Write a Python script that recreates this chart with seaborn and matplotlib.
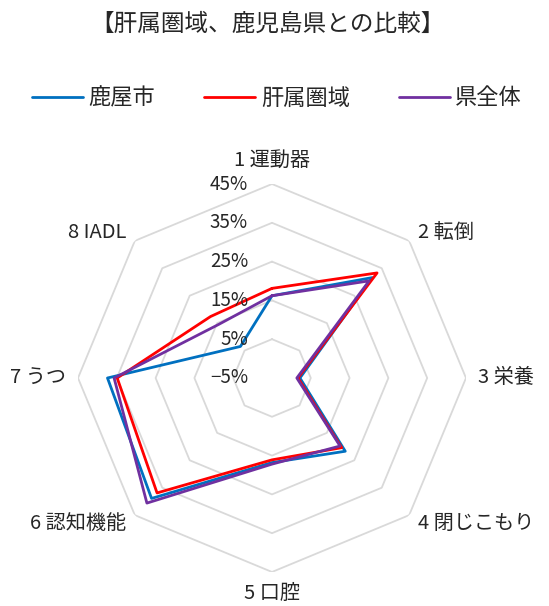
import numpy as np
import pandas as pd
import matplotlib
matplotlib.use("Agg")
import matplotlib.pyplot as plt
import matplotlib.transforms as mtransforms
import seaborn as sns

# values (%)
categories = ["1 運動器", "2 転倒", "3 栄養", "4 閉じこもり", "5 口腔", "6 認知機能", "7 うつ", "8 IADL"]
kanoya = [16.2, 31.6, 2.2, 21.7, 16.8, 38.9, 37.4, 6.5]
kimotsuki = [18.1, 33.3, 1.7, 20.4, 16.1, 36.9, 34.9, 17.4]
prefecture = [16.2, 30.4, 1.4, 19.8, 17.2, 40.6, 35.7, 14.5]
series_names = ["鹿屋市", "肝属圏域", "県全体"]
colors = ["#0070C0", "#FF0000", "#7030A0"]
ring_ticks = [-5, 5, 15, 25, 35, 45]
ring_labels = ["−5%", "5%", "15%", "25%", "35%", "45%"]

sns.set_theme(style="white")
plt.rcParams["font.family"] = ["Noto Sans CJK JP", "DejaVu Sans"]

n = len(categories)
angles = np.linspace(0, 2 * np.pi, n, endpoint=False)

# long table, each loop closed by repeating its first point
rows = []
for name, vals in zip(series_names, [kanoya, kimotsuki, prefecture]):
    for k, i in enumerate(list(range(n)) + [0]):
        th = 2 * np.pi if k == n else angles[i]
        rows.append({"series": name, "theta": th, "value": vals[i]})
df = pd.DataFrame(rows)

fig = plt.figure(figsize=(5.49, 6.06), dpi=100)
ax = fig.add_axes([0.1421, 0.0561, 0.7067, 0.6403], projection="polar")
ax.set_theta_zero_location("N")
ax.set_theta_direction(-1)
ax.set_ylim(-5, 45)

# octagon gridlines
closed = np.append(angles, angles[0])
for r in ring_ticks[1:]:
    ax.plot(closed, [r] * (n + 1), color="#d9d9d9", lw=1.3, zorder=1)

sns.lineplot(data=df, x="theta", y="value", hue="series", palette=colors,
             sort=False, estimator=None, lw=2.0, ax=ax, zorder=3)

ax.grid(False)
ax.spines["polar"].set_visible(False)
ax.set_xticks([])
ax.set_yticks([])
ax.set_xlabel("")
ax.set_ylabel("")

# radial tick labels, left of the top axis
shift = mtransforms.ScaledTranslation(-0.24, 0, fig.dpi_scale_trans)
for r, lab in zip(ring_ticks, ring_labels):
    ax.text(0, r, lab, transform=ax.transData + shift, ha="right", va="center",
            fontsize=13.5, clip_on=False)

# category labels
for th, lab in zip(angles, categories):
    s = np.sin(th)
    if abs(s) < 1e-6:
        r = 51.2 if np.cos(th) > 0 else 50.6
        ax.text(th, r, lab, ha="center", va="center", fontsize=14.5)
    else:
        ax.text(th, 48.2, lab, ha="left" if s > 0 else "right", va="center", fontsize=14.5)

fig.text(267 / 549, 1 - 24 / 606, "【肝属圏域、鹿児島県との比較】", ha="center", va="center", fontsize=17)

handles, labels = ax.get_legend_handles_labels()
ax.get_legend().remove()
fig.legend(handles, labels, loc="center", bbox_to_anchor=(277 / 549, 1 - 98 / 606), ncol=3,
           frameon=False, fontsize=16, handlelength=2.3, handletextpad=0.25, columnspacing=2.2)

fig.savefig("out.png", dpi=100)
